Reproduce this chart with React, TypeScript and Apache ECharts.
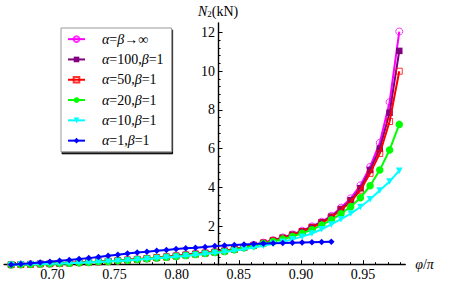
import React, { useEffect, useRef } from "react";
import * as echarts from "echarts";

// phi / pi values (x)
const PHI = [
  0.6667, 0.6745, 0.6823, 0.6901, 0.6979, 0.7057, 0.7135, 0.7214, 0.7292, 0.737,
  0.7448, 0.7526, 0.7604, 0.7682, 0.776, 0.7839, 0.7917, 0.7995, 0.8073, 0.8151,
  0.8229, 0.8307, 0.8385, 0.8464, 0.8542, 0.862, 0.8698, 0.8776, 0.8854, 0.8932,
  0.901, 0.9089, 0.9167, 0.9245, 0.9323, 0.9401, 0.9479, 0.9557, 0.9635, 0.9714,
  0.9792,
];

// N2 (kN) for each case
const N_INF = [
  0.0, 0.01, 0.02, 0.04, 0.05, 0.07, 0.09, 0.11, 0.13, 0.15,
  0.18, 0.21, 0.24, 0.28, 0.32, 0.36, 0.41, 0.46, 0.51, 0.56,
  0.61, 0.66, 0.72, 0.81, 0.91, 1.02, 1.14, 1.27, 1.41, 1.57,
  1.76, 1.98, 2.22, 2.52, 2.95, 3.43, 4.1, 5.05, 6.3, 8.4,
  12.05,
];
const N_100 = [
  0.0, 0.01, 0.02, 0.04, 0.05, 0.07, 0.09, 0.11, 0.13, 0.15,
  0.18, 0.21, 0.24, 0.28, 0.32, 0.36, 0.4, 0.45, 0.5, 0.55,
  0.6, 0.65, 0.71, 0.8, 0.9, 1.01, 1.13, 1.25, 1.39, 1.55,
  1.73, 1.95, 2.19, 2.48, 2.88, 3.33, 3.95, 4.9, 6.0, 7.85,
  11.05,
];
const N_50 = [
  0.0, 0.01, 0.02, 0.04, 0.05, 0.07, 0.09, 0.11, 0.13, 0.15,
  0.18, 0.21, 0.24, 0.28, 0.32, 0.36, 0.4, 0.45, 0.5, 0.55,
  0.6, 0.65, 0.71, 0.79, 0.89, 1.0, 1.12, 1.24, 1.37, 1.53,
  1.71, 1.92, 2.16, 2.45, 2.83, 3.25, 3.85, 4.72, 5.75, 7.4,
  10.0,
];
const N_20 = [
  0.0, 0.01, 0.02, 0.04, 0.05, 0.07, 0.08, 0.1, 0.12, 0.15,
  0.17, 0.2, 0.23, 0.27, 0.31, 0.35, 0.39, 0.43, 0.48, 0.53,
  0.58, 0.63, 0.68, 0.77, 0.87, 0.98, 1.09, 1.2, 1.32, 1.46,
  1.62, 1.81, 2.05, 2.32, 2.63, 3.0, 3.46, 4.08, 4.89, 5.93,
  7.25,
];
const N_10 = [
  0.0, 0.01, 0.02, 0.03, 0.05, 0.06, 0.08, 0.1, 0.12, 0.14,
  0.16, 0.19, 0.22, 0.25, 0.29, 0.33, 0.37, 0.41, 0.45, 0.5,
  0.55, 0.6, 0.65, 0.72, 0.8, 0.89, 0.98, 1.08, 1.19, 1.31,
  1.45, 1.61, 1.83, 2.08, 2.35, 2.64, 2.98, 3.38, 3.84, 4.3,
  4.86,
];
const N_1 = [
  0.0, 0.03, 0.07, 0.11, 0.15, 0.2, 0.24, 0.29, 0.34, 0.4,
  0.46, 0.52, 0.58, 0.63, 0.67, 0.72, 0.76, 0.81, 0.85, 0.88,
  0.92, 0.96, 0.99, 1.02, 1.05, 1.07, 1.09, 1.11, 1.12, 1.14,
  1.15, 1.16, 1.17, 1.18,
];

const SERIES_NAMES = ["α=β→∞", "α=100,β=1", "α=50,β=1", "α=20,β=1", "α=10,β=1", "α=1,β=1"];
const SERIES_VALUES = [N_INF, N_100, N_50, N_20, N_10, N_1];

// axis ranges
const X_RANGE = [0.661, 0.984];
const X_MINOR_RANGE = [0.67, 0.98];
const X_MAJOR_RANGE = [0.7, 0.95];
const Y_RANGE = [0, 12.5];
const Y_MAJOR_RANGE = [0, 12];
const Y_AXIS_AT_X = 0.8333;

const FONT = '"Liberation Serif", "DejaVu Serif", serif';

// layout (pixels)
const PX_AT_070 = 52.5;
const PX_PER_X = 1242;
const PY_AT_0 = 264.7;
const PX_PER_Y = 19.35;
const px = (v: number) => PX_AT_070 + (v - 0.7) * PX_PER_X;
const py = (v: number) => PY_AT_0 - v * PX_PER_Y;

const STYLES = [
  { color: "#FF00FF", symbol: "circle", size: 7, hollow: true, rotate: 0 },
  { color: "#800080", symbol: "rect", size: 6.5, hollow: false, rotate: 0 },
  { color: "#FF0000", symbol: "rect", size: 6, hollow: true, rotate: 0 },
  { color: "#00FF00", symbol: "circle", size: 7.5, hollow: false, rotate: 0 },
  { color: "#00FFFF", symbol: "triangle", size: 6.5, hollow: false, rotate: 180 },
  { color: "#0000FF", symbol: "diamond", size: 6.5, hollow: false, rotate: 0 },
];

export default function App() {
  const ref = useRef<HTMLDivElement>(null);
  useEffect(() => {
    if (!ref.current) return;
    const chart = echarts.init(ref.current, null, { renderer: "svg" });
    const top = py(Y_RANGE[1]);
    const height = PY_AT_0 - top;
    const hiddenX = (i: number) => ({ type: "value", gridIndex: i, show: false, min: 0, max: 1 });
    const hiddenY = (i: number) => ({ type: "value", gridIndex: i, show: false, min: 0, max: 1 });
    const lineStyleAxis = { show: true, lineStyle: { color: "#000", width: 1.4 } };

    const series = SERIES_VALUES.map((vals, si) => {
      const st = STYLES[si];
      return {
        name: SERIES_NAMES[si],
        type: "line",
        xAxisIndex: 0,
        yAxisIndex: 0,
        data: vals.map((v, i) => [PHI[i], v]),
        symbol: st.symbol,
        symbolSize: st.size,
        symbolRotate: st.rotate,
        showAllSymbol: true,
        lineStyle: { color: st.color, width: 2 },
        itemStyle: st.hollow
          ? { color: "rgba(255,255,255,0)", borderColor: st.color, borderWidth: 1, opacity: 0.8 }
          : { color: st.color, borderWidth: 0 },
        z: 2 + si,
        clip: false,
      };
    });

    chart.setOption({
      animation: false,
      backgroundColor: "#fff",
      textStyle: { fontFamily: FONT },
      grid: [
        { left: px(X_RANGE[0]), top, width: px(X_RANGE[1]) - px(X_RANGE[0]), height },
        { left: px(X_MINOR_RANGE[0]), top, width: px(X_MINOR_RANGE[1]) - px(X_MINOR_RANGE[0]), height },
        { left: px(X_MAJOR_RANGE[0]), top, width: px(X_MAJOR_RANGE[1]) - px(X_MAJOR_RANGE[0]), height },
        { left: px(Y_AXIS_AT_X), top, width: 10, height },
        { left: px(Y_AXIS_AT_X), top: py(Y_MAJOR_RANGE[1]), width: 10, height: PY_AT_0 - py(Y_MAJOR_RANGE[1]) },
      ],
      xAxis: [
        {
          type: "value", gridIndex: 0, min: X_RANGE[0], max: X_RANGE[1],
          axisLine: lineStyleAxis, axisTick: { show: false }, axisLabel: { show: false }, splitLine: { show: false },
          name: "{i|φ}/{i|π}", nameLocation: "end", nameGap: 10,
          nameTextStyle: { fontFamily: FONT, fontSize: 14, color: "#000", rich: { i: { fontStyle: "italic", fontFamily: FONT, fontSize: 14, color: "#000" } } },
        },
        {
          type: "value", gridIndex: 1, min: X_MINOR_RANGE[0], max: X_MINOR_RANGE[1], interval: 0.01,
          axisLine: { show: false }, axisTick: { show: true, inside: true, length: 2.5, lineStyle: { color: "#000", width: 1 } },
          axisLabel: { show: false }, splitLine: { show: false },
        },
        {
          type: "value", gridIndex: 2, min: X_MAJOR_RANGE[0], max: X_MAJOR_RANGE[1], interval: 0.05,
          axisLine: { show: false }, axisTick: { show: true, inside: true, length: 4.5, lineStyle: { color: "#000", width: 1 } },
          axisLabel: { show: true, margin: 3, color: "#000", fontFamily: FONT, fontSize: 14, formatter: (v: number) => v.toFixed(2) },
          splitLine: { show: false },
        },
        hiddenX(3),
        hiddenX(4),
      ],
      yAxis: [
        { type: "value", gridIndex: 0, show: false, min: Y_RANGE[0], max: Y_RANGE[1] },
        hiddenY(1),
        hiddenY(2),
        {
          type: "value", gridIndex: 3, min: Y_RANGE[0], max: Y_RANGE[1], position: "left",
          axisLine: lineStyleAxis, axisTick: { show: false }, axisLabel: { show: false }, splitLine: { show: false },
          name: "{i|N}{s|2}(kN)", nameLocation: "end", nameGap: 4,
          nameTextStyle: {
            fontFamily: FONT, fontSize: 14, color: "#000",
            rich: {
              i: { fontStyle: "italic", fontFamily: FONT, fontSize: 14, color: "#000" },
              s: { fontFamily: FONT, fontSize: 9, color: "#000", padding: [6, 0, 0, 0] },
            },
          },
        },
        {
          type: "value", gridIndex: 4, min: Y_MAJOR_RANGE[0], max: Y_MAJOR_RANGE[1], interval: 2, position: "left",
          axisLine: { show: false },
          axisTick: { show: true, inside: true, length: 4.5, lineStyle: { color: "#000", width: 1 } },
          minorTick: { show: true, splitNumber: 5, length: 2.5, lineStyle: { color: "#000", width: 1 } },
          axisLabel: { show: true, margin: 3, color: "#000", fontFamily: FONT, fontSize: 14, showMinLabel: false },
          splitLine: { show: false },
        },
      ],
      legend: {
        orient: "vertical",
        left: 61,
        top: 28,
        data: SERIES_NAMES,
        itemWidth: 17,
        itemHeight: 7,
        itemGap: 4,
        padding: [3, 8, 3, 6],
        backgroundColor: "#fff",
        borderColor: "#999",
        borderWidth: 1,
        shadowColor: "#000",
        shadowOffsetX: 1,
        shadowOffsetY: 2,
        shadowBlur: 0,
        formatter: (name: string) => name.replace(/([αβ])/g, "{i|$1}"),
        textStyle: {
          fontFamily: FONT, fontSize: 14, color: "#000", lineHeight: 16.3, padding: [0, 0, 0, 12],
          rich: { i: { fontStyle: "italic", fontFamily: FONT, fontSize: 14, color: "#000", lineHeight: 16.3 } },
        },
      },
      series,
    });
    return () => chart.dispose();
  }, []);
  return <div ref={ref} style={{ position: "fixed", left: 0, top: 0, width: 463, height: 288 }} />;
}
